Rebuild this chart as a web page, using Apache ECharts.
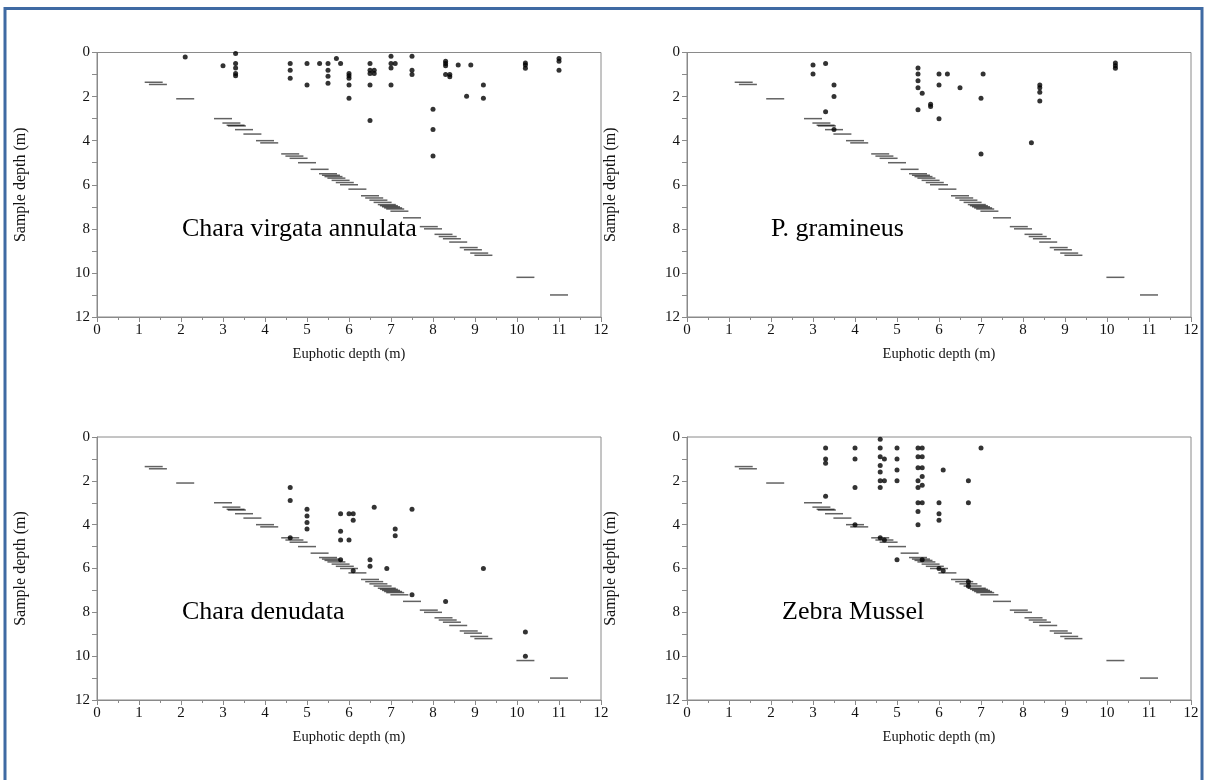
<!DOCTYPE html>
<html>
<head>
<meta charset="utf-8">
<script src="https://cdn.jsdelivr.net/npm/echarts@6/dist/echarts.min.js"></script>
<style>
html,body{margin:0;padding:0;background:#fff;}
#chart{width:1206px;height:780px;}
</style>
</head>
<body>
<div id="chart"></div>
<script>
// Euphotic depth of each lake (drawn as dash at sample depth = euphotic depth)
const euphoticDepths = [1.35, 1.45, 2.1, 3.0, 3.2, 3.3, 3.33, 3.5, 3.7, 4.0, 4.1, 4.6, 4.7, 4.8, 5.0, 5.3, 5.5, 5.57, 5.63, 5.7, 5.8, 5.9, 6.0, 6.2, 6.5, 6.6, 6.7, 6.8, 6.9, 6.95, 7.0, 7.05, 7.1, 7.2, 7.5, 7.9, 8.0, 8.25, 8.35, 8.45, 8.6, 8.85, 8.95, 9.1, 9.2, 10.2, 11.0];

// Occurrences: [euphotic depth, sample depth]
const charaVirgata = [[2.1,0.2],[3.0,0.6],[3.3,0.05],[3.3,0.5],[3.3,0.7],[3.3,0.95],[3.3,1.05],[4.6,0.5],[4.6,0.8],[4.6,1.17],[5.0,0.5],[5.0,1.48],[5.3,0.5],[5.5,0.5],[5.5,0.8],[5.5,1.08],[5.5,1.39],[5.7,0.27],[5.8,0.5],[6.0,0.95],[6.0,1.05],[6.0,1.17],[6.0,1.48],[6.0,2.08],[6.5,0.5],[6.5,0.8],[6.6,0.8],[6.5,0.95],[6.6,0.95],[6.5,1.48],[6.5,3.08],[7.0,0.17],[7.0,0.5],[7.1,0.5],[7.0,0.7],[7.0,1.48],[7.5,0.17],[7.5,0.8],[7.5,1.0],[8.0,2.58],[8.0,3.49],[8.0,4.7],[8.3,0.4],[8.3,0.5],[8.3,0.6],[8.3,1.0],[8.4,1.0],[8.4,1.1],[8.6,0.57],[8.8,1.99],[8.9,0.57],[9.2,1.48],[9.2,2.08],[10.2,0.48],[10.2,0.57],[10.2,0.72],[11.0,0.27],[11.0,0.4],[11.0,0.8]];
const pGramineus = [[3.0,0.57],[3.0,0.98],[3.3,0.5],[3.5,1.48],[3.5,2.0],[3.3,2.69],[3.5,3.49],[5.5,0.7],[5.5,0.98],[5.5,1.28],[5.5,1.6],[5.5,2.6],[5.6,1.85],[5.8,2.35],[5.8,2.45],[6.0,0.98],[6.0,1.48],[6.0,3.0],[6.2,0.98],[6.5,1.6],[7.0,2.08],[7.05,0.98],[7.0,4.6],[8.2,4.1],[8.4,1.48],[8.4,1.6],[8.4,1.8],[8.4,2.2],[10.2,0.48],[10.2,0.6],[10.2,0.72]];
const charaDenudata = [[4.6,2.3],[4.6,2.9],[4.6,4.6],[5.0,3.3],[5.0,3.6],[5.0,3.9],[5.0,4.2],[5.8,3.5],[5.8,4.3],[5.8,4.7],[5.8,5.6],[6.0,3.5],[6.0,4.7],[6.1,3.5],[6.1,3.8],[6.1,6.1],[6.5,5.6],[6.5,5.9],[6.6,3.2],[6.9,6.0],[7.1,4.2],[7.1,4.5],[7.5,3.3],[7.5,7.2],[8.3,7.5],[9.2,6.0],[10.2,8.9],[10.2,10.0]];
const zebraMussel = [[3.3,0.5],[3.3,1.0],[3.3,1.2],[3.3,2.7],[4.0,0.5],[4.0,1.0],[4.0,2.3],[4.0,4.0],[4.6,0.1],[4.6,0.5],[4.6,0.9],[4.6,1.3],[4.6,1.6],[4.6,2.0],[4.6,2.3],[4.6,4.6],[4.7,1.0],[4.7,2.0],[4.7,4.7],[5.0,0.5],[5.0,1.0],[5.0,1.5],[5.0,2.0],[5.0,5.6],[5.5,0.5],[5.5,0.9],[5.5,1.4],[5.5,2.0],[5.5,2.3],[5.5,3.0],[5.5,3.4],[5.5,4.0],[5.6,0.5],[5.6,0.9],[5.6,1.4],[5.6,1.8],[5.6,2.2],[5.6,3.0],[5.6,5.6],[6.0,3.0],[6.0,3.5],[6.0,3.8],[6.0,6.0],[6.1,1.5],[6.1,6.1],[6.7,2.0],[6.7,3.0],[6.7,6.6],[6.7,6.8],[7.0,0.5]];

const panelTitles = ['Chara virgata annulata', 'P. gramineus', 'Chara denudata', 'Zebra Mussel'];
const panelData = [charaVirgata, pGramineus, charaDenudata, zebraMussel];
const xTicks = [0, 12, 1];
const yTicks = [0, 12, 1];

const FONT = 'Liberation Serif';
const gridPos = [
  {left: 97, top: 52.5, width: 504, height: 264.5},
  {left: 687, top: 52.5, width: 504, height: 264.5},
  {left: 97, top: 437, width: 504, height: 263},
  {left: 687, top: 437, width: 504, height: 263}
];
const titlePos = [
  {left: 177, top: 211},
  {left: 766, top: 211},
  {left: 177, top: 594},
  {left: 777, top: 594}
];

const axisCommon = {
  axisLine: {show: true, onZero: false, lineStyle: {color: '#8a8a8a', width: 1}},
  axisTick: {show: true, inside: false, length: 5, lineStyle: {color: '#8a8a8a'}},
  splitLine: {show: false}
};

const grids = [], xAxes = [], yAxes = [], series = [], titles = [];
for (let i = 0; i < 4; i++) {
  grids.push(Object.assign({show: true, borderColor: '#8a8a8a', borderWidth: 1, backgroundColor: 'transparent'}, gridPos[i]));
  xAxes.push(Object.assign({}, axisCommon, {
    type: 'value', gridIndex: i, min: xTicks[0], max: xTicks[1], interval: xTicks[2],
    name: 'Euphotic depth (m)', nameLocation: 'middle', nameGap: 30,
    nameTextStyle: {fontFamily: FONT, fontSize: 14.5, color: '#111'},
    minorTick: {show: true, splitNumber: 2, length: 3, lineStyle: {color: '#8a8a8a'}},
    axisLabel: {fontFamily: FONT, fontSize: 15, color: '#111', margin: 6}
  }));
  yAxes.push(Object.assign({}, axisCommon, {
    type: 'value', gridIndex: i, min: yTicks[0], max: yTicks[1], interval: yTicks[2], inverse: true,
    name: 'Sample depth (m)', nameLocation: 'middle', nameGap: 68, nameRotate: 90,
    nameTextStyle: {fontFamily: FONT, fontSize: 16, color: '#111'},
    axisLabel: {fontFamily: FONT, fontSize: 15, color: '#111', margin: 7,
      formatter: v => (v % 2 === 0 ? String(v) : '')}
  }));
  series.push({
    type: 'scatter', xAxisIndex: i, yAxisIndex: i, silent: true,
    symbol: 'rect', symbolSize: [18, 1.5],
    itemStyle: {color: 'rgba(10,10,10,0.8)'},
    data: euphoticDepths.map(z => [z, z]), z: 2
  });
  series.push({
    type: 'scatter', xAxisIndex: i, yAxisIndex: i, silent: true,
    symbol: 'circle', symbolSize: 5,
    itemStyle: {color: '#000'},
    data: panelData[i], z: 3
  });
  titles.push(Object.assign({text: panelTitles[i], textStyle: {fontFamily: FONT, fontSize: 26, fontWeight: 'normal', color: '#000'}}, titlePos[i]));
}

const chart = echarts.init(document.getElementById('chart'), null, {renderer: 'canvas'});
chart.setOption({
  animation: false,
  backgroundColor: '#fff',
  title: titles,
  grid: grids,
  xAxis: xAxes,
  yAxis: yAxes,
  series: series,
  graphic: [{
    type: 'rect', shape: {x: 5, y: 8.5, width: 1197, height: 800},
    style: {fill: 'none', stroke: '#3f6aa3', lineWidth: 3}, silent: true, z: 100
  }]
});
</script>
</body>
</html>
